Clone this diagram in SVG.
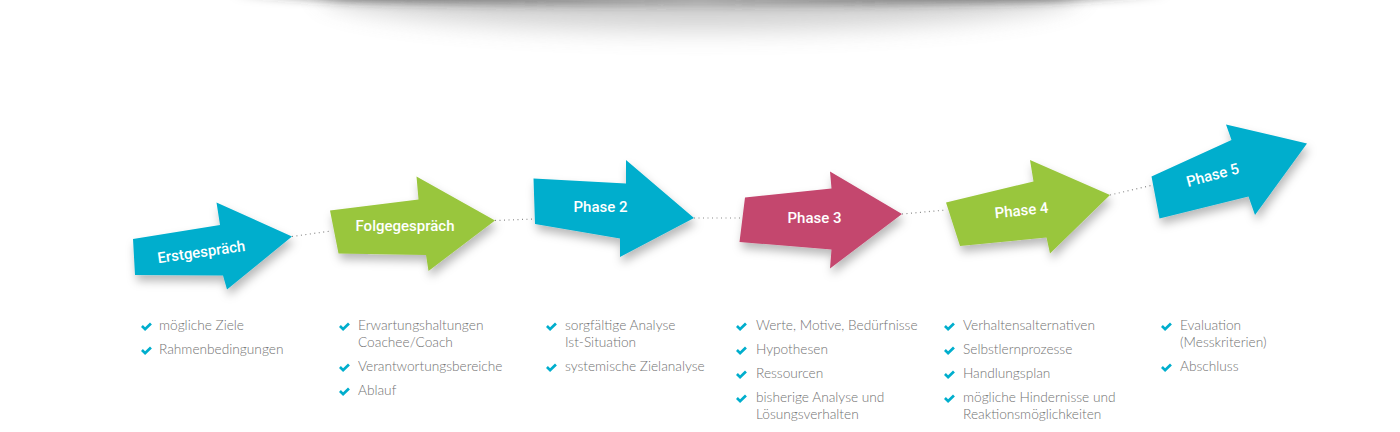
<svg xmlns="http://www.w3.org/2000/svg" width="1400" height="432" viewBox="0 0 1400 432">
  <defs>
    <filter id="sh" x="-20%" y="-20%" width="150%" height="160%">
      <feDropShadow dx="2" dy="6" stdDeviation="5" flood-color="#000" flood-opacity="0.28"/>
    </filter>
    <filter id="blurA" x="-10%" y="-100%" width="120%" height="300%">
      <feGaussianBlur stdDeviation="12"/>
    </filter>
    <filter id="blurB" x="-10%" y="-100%" width="120%" height="300%">
      <feGaussianBlur stdDeviation="4"/>
    </filter>
    <linearGradient id="bandGrad" x1="0" y1="0" x2="1" y2="0">
      <stop offset="0" stop-color="#333" stop-opacity="0"/>
      <stop offset="0.12" stop-color="#333" stop-opacity="0.6"/>
      <stop offset="0.5" stop-color="#333" stop-opacity="0.25"/>
      <stop offset="0.88" stop-color="#333" stop-opacity="0.6"/>
      <stop offset="1" stop-color="#333" stop-opacity="0"/>
    </linearGradient>
    <path id="chk" d="M0,4.4 L1.9,2.6 L4.1,4.8 L9,0 L10.9,1.9 L4.1,8.6 Z"/>
  </defs>
  <style>
    .lbl { font-family: Roboto, "Liberation Sans", sans-serif; font-weight: 500; font-size: 15px; fill: #ffffff; text-anchor: middle; }
    .li { font-family: Lato, "Liberation Sans", sans-serif; font-weight: 300; font-size: 13.7px; fill: #727272; }
    .ck { fill: #00aecd; }
    .teal { fill: #00aecd; }
    .green { fill: #99c63d; }
    .pink { fill: #c4466e; }
    .conn { stroke: #8a8a8a; stroke-width: 1.2; stroke-dasharray: 1 3.5; fill: none; }
  </style>
  <rect width="1400" height="432" fill="#ffffff"/>

  <!-- top curved shadow -->
  <g id="top-shadow">
    <ellipse cx="700" cy="-8" rx="380" ry="38" fill="#9a9a9a" opacity="0.45" filter="url(#blurA)"/>
    <path d="M230,-20 L1170,-20 L1170,-3 Q700,16 230,-3 Z" fill="url(#bandGrad)" filter="url(#blurB)"/>
  </g>

  <!-- connectors -->
  <g id="connectors">
    <line class="conn" x1="292" y1="236.5" x2="331" y2="231"/>
    <line class="conn" x1="495" y1="220.5" x2="534" y2="219"/>
    <line class="conn" x1="694" y1="218" x2="742" y2="218"/>
    <line class="conn" x1="902" y1="214" x2="946" y2="210"/>
    <line class="conn" x1="1110" y1="195" x2="1153" y2="185"/>
  </g>

  <g id="erstgespraech">
    <path class="teal" filter="url(#sh)" d="M133,239 L220,225 L216.5,202.5 L292,236.5 L227,289.5 L223,275.5 L135,275 Z"/>
    <text class="lbl" x="0" y="0" transform="translate(202,257) rotate(-8)">Erstgespräch</text>
  </g>

  <g id="folgegespraech">
    <path class="green" filter="url(#sh)" d="M330,210.5 L418.5,199.5 L416.5,176.5 L495,220.5 L428.5,271 L426,255 L338.5,253.5 Z"/>
    <text class="lbl" x="405" y="231">Folgegespräch</text>
  </g>

  <g id="phase2">
    <path class="teal" filter="url(#sh)" d="M533.5,178.5 L626,183.5 L626,160 L694,218 L620,257 L620,238.5 L535,224 Z"/>
    <text class="lbl" x="600.5" y="212">Phase 2</text>
  </g>

  <g id="phase3">
    <path class="pink" filter="url(#sh)" d="M745,197.5 L831.5,188.5 L830,171.5 L902,214 L830,268.5 L831.5,249.5 L739.5,242 Z"/>
    <text class="lbl" x="814.5" y="223">Phase 3</text>
  </g>

  <g id="phase4">
    <path class="green" filter="url(#sh)" d="M946,202.5 L1033.5,181.5 L1030,160 L1110,195 L1050,253.5 L1046.5,237.5 L960,246 Z"/>
    <text class="lbl" x="0" y="0" transform="translate(1022,215.5) rotate(-6)">Phase 4</text>
  </g>

  <g id="phase5">
    <path class="teal" filter="url(#sh)" d="M1151.5,176.5 L1231.5,140 L1226,124.5 L1307,143.5 L1255,215 L1248.5,196.5 L1159.5,218.5 Z"/>
    <text class="lbl" x="0" y="0" transform="translate(1214,180) rotate(-15)">Phase 5</text>
  </g>

  <!-- lists -->
  <g id="list-erstgespraech">
    <use href="#chk" class="ck" x="141" y="322.5"/>
    <text class="li" x="159" y="330">mögliche Ziele</text>
    <use href="#chk" class="ck" x="141" y="346.5"/>
    <text class="li" x="159" y="354">Rahmenbedingungen</text>
  </g>

  <g id="list-folgegespraech">
    <use href="#chk" class="ck" x="339" y="322.5"/>
    <text class="li" x="358" y="330">Erwartungshaltungen</text>
    <text class="li" x="358" y="347">Coachee/Coach</text>
    <use href="#chk" class="ck" x="339" y="363.5"/>
    <text class="li" x="358" y="371">Verantwortungsbereiche</text>
    <use href="#chk" class="ck" x="339" y="387.5"/>
    <text class="li" x="358" y="395">Ablauf</text>
  </g>

  <g id="list-phase2">
    <use href="#chk" class="ck" x="546" y="322.5"/>
    <text class="li" x="565" y="330">sorgfältige Analyse</text>
    <text class="li" x="565" y="347">Ist-Situation</text>
    <use href="#chk" class="ck" x="546" y="363.5"/>
    <text class="li" x="565" y="371">systemische Zielanalyse</text>
  </g>

  <g id="list-phase3">
    <use href="#chk" class="ck" x="736" y="322.5"/>
    <text class="li" x="756" y="330">Werte, Motive, Bedürfnisse</text>
    <use href="#chk" class="ck" x="736" y="346.5"/>
    <text class="li" x="756" y="354">Hypothesen</text>
    <use href="#chk" class="ck" x="736" y="370.5"/>
    <text class="li" x="756" y="378">Ressourcen</text>
    <use href="#chk" class="ck" x="736" y="394.5"/>
    <text class="li" x="756" y="402">bisherige Analyse und</text>
    <text class="li" x="756" y="419">Lösungsverhalten</text>
  </g>

  <g id="list-phase4">
    <use href="#chk" class="ck" x="944" y="322.5"/>
    <text class="li" x="963" y="330">Verhaltensalternativen</text>
    <use href="#chk" class="ck" x="944" y="346.5"/>
    <text class="li" x="963" y="354">Selbstlernprozesse</text>
    <use href="#chk" class="ck" x="944" y="370.5"/>
    <text class="li" x="963" y="378">Handlungsplan</text>
    <use href="#chk" class="ck" x="944" y="394.5"/>
    <text class="li" x="963" y="402">mögliche Hindernisse und</text>
    <text class="li" x="963" y="419">Reaktionsmöglichkeiten</text>
  </g>

  <g id="list-phase5">
    <use href="#chk" class="ck" x="1161" y="322.5"/>
    <text class="li" x="1180" y="330">Evaluation</text>
    <text class="li" x="1180" y="347">(Messkriterien)</text>
    <use href="#chk" class="ck" x="1161" y="363.5"/>
    <text class="li" x="1180" y="371">Abschluss</text>
  </g>
</svg>
